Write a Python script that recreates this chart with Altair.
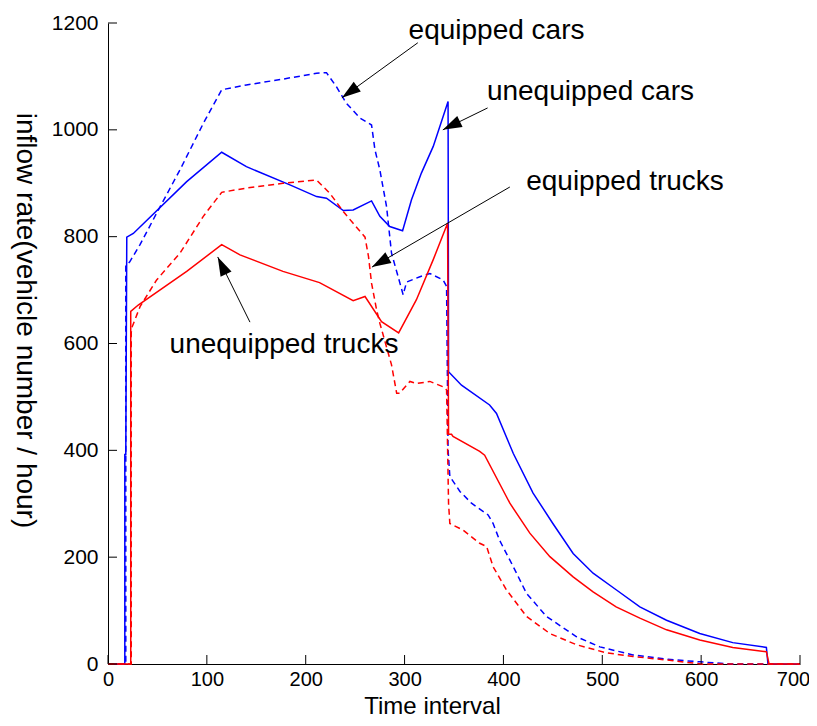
import altair as alt
import pandas as pd

FONT = "Liberation Sans"

# ---- series data ----
uc_t = [0, 17, 17, 18, 19, 25.6, 79.6, 115, 140, 184, 211, 221, 238, 248, 266.6, 275, 285, 298, 307, 317, 329, 344,
        344.5, 357.6, 386, 393, 410, 430, 450, 470.5, 490.7, 514, 538, 565, 598.6, 632, 666, 667.6, 700]
uc_v = [0, 0, 392, 392, 799, 806, 903, 958, 931, 897, 875, 872, 849, 850, 867, 838, 819, 811, 869, 919, 969, 1053,
        547, 522, 485, 469, 394, 320, 263, 207, 170, 139, 107, 82, 57, 40, 31, 0, 0]

ec_t = [0, 18, 18, 22, 32.4, 49.2, 72.8, 96.4, 115, 140, 177, 211, 221, 231, 241, 255, 266.6, 270, 275, 281.8,
        286.8, 293.5, 298.6, 302, 315.5, 325.6, 339, 342.5, 344, 345.8, 356, 367.7, 384.5, 389.6, 396, 410, 423.4,
        443.6, 474, 497.5, 531, 565, 598.6, 630, 700]
ec_v = [0, 0, 745, 753, 785, 844, 925, 1012, 1075, 1084, 1095, 1106, 1107, 1081, 1050, 1022, 1009, 963, 925, 856,
        769, 725, 691, 715, 725, 731, 719, 707, 401, 351, 323, 301, 279, 263, 232, 182, 132,
        89, 51, 32, 17, 9, 4, 0, 0]

ut_t = [0, 23, 23, 30.6, 79.6, 115, 133.5, 177, 214, 248, 260, 276.7, 294, 312, 329, 343.5, 344.5, 347.5, 349,
        376, 381, 406.5, 426.7, 447, 470.5, 490.7, 514, 538, 565, 598.6, 632, 666, 668.7, 700]
ut_v = [0, 0, 660, 672, 735, 785, 766, 735, 714, 680, 688, 641, 620, 682, 757, 825, 430, 430, 426,
        398, 391, 301, 245, 201, 163, 135, 107, 86, 64, 45, 31, 23, 0, 0]

et_t = [0, 23.5, 23.5, 24, 32.4, 49.2, 72.8, 96.4, 115, 140, 177, 211, 224.5, 238, 248, 260, 263.5, 266.6, 271.7,
        275, 286.8, 292, 295, 305.4, 312, 325.6, 339, 342.5, 344.5, 345.8, 359, 376, 383, 389.6, 403, 423.4, 447,
        474, 504, 531, 565, 600, 700]
et_v = [0, 0, 620, 629, 669, 719, 769, 838, 883, 891, 900, 906, 881, 847, 825, 799, 763, 713, 663,
        638, 560, 507, 507, 529, 525, 529, 519, 513, 300, 263, 251, 226, 220, 182, 139, 89, 57,
        36, 21, 14, 7.5, 0, 0]

series_names = ["unequipped cars", "equipped cars", "unequipped trucks", "equipped trucks"]
series_t = [uc_t, ec_t, ut_t, et_t]
series_v = [uc_v, ec_v, ut_v, et_v]
series_colors = ["#0000ff", "#0000ff", "#ff0000", "#ff0000"]
series_dashed = [False, True, False, True]

x_ticks = [0, 100, 200, 300, 400, 500, 600, 700]
y_ticks = [0, 200, 400, 600, 800, 1000, 1200]

# ---- annotations ----
ann_labels = ["equipped cars", "unequipped cars", "equipped trucks", "unequipped trucks"]
ann_text_t = [393, 488, 523, 178]
ann_text_v = [1170, 1056, 888, 582]
arrow_start_t = [313.4, 384, 406.5, 143.6]
arrow_start_v = [1163, 1041, 893, 640]
arrow_tip_t = [236.6, 338.7, 267, 111]
arrow_tip_v = [1060, 1000, 743, 762]
arrow_angle = [234, 244, 240, 334]

W, H = 692, 641

x_scale = alt.Scale(domain=[0, 700], nice=False, zero=False)
y_scale = alt.Scale(domain=[0, 1200], nice=False, zero=False)

x_axis = alt.Axis(values=x_ticks, format="d", title="Time interval", grid=False, ticks=False, tickSize=0,
                  labelPadding=5, labelFontSize=20, labelFont=FONT, labelColor="#000000",
                  labelFlush=False, labelOverlap=False,
                  labelOffset={"condition": {"test": "datum.value == 700", "value": -7}, "value": 0},
                  domainColor="#000000", domainWidth=1,
                  titleFont=FONT, titleFontSize=24, titleFontWeight="normal", titleColor="#000000",
                  titleX=324, titleY=49, titleBaseline="alphabetic", titleAlign="center")
y_axis = alt.Axis(values=y_ticks, format="d", title="inflow rate(vehicle number / hour)", grid=False, ticks=False,
                  tickSize=0, labelPadding=10, labelFontSize=21, labelFont=FONT, labelColor="#000000",
                  labelFlush=False, labelOverlap=False,
                  domainColor="#000000", domainWidth=1,
                  titleFont=FONT, titleFontSize=28, titleFontWeight="normal", titleColor="#000000",
                  titleAngle=90, titleX=-84, titleY=297, titleAlign="center", titleBaseline="middle")


def X(field):
    return alt.X(field, scale=x_scale, axis=x_axis)


def Y(field):
    return alt.Y(field, scale=y_scale, axis=y_axis)


layers = []
for k, (name, ts, vs) in enumerate(zip(series_names, series_t, series_v)):
    df = pd.DataFrame({"t": ts, "v": vs, "i": list(range(len(ts)))})
    mk = dict(color=series_colors[k], strokeWidth=1.5)
    if series_dashed[k]:
        mk["strokeDash"] = [6, 4]
    ch = alt.Chart(df).mark_line(**mk).encode(
        x=X("t:Q"), y=Y("v:Q"), order=alt.Order("i:Q"),
    )
    layers.append(ch)

# inward ticks
xt = alt.Chart(pd.DataFrame({"t": x_ticks})).mark_rule(color="#000000", strokeWidth=1).encode(
    x=X("t:Q"), y=alt.value(H - 9), y2=alt.value(H))
yt = alt.Chart(pd.DataFrame({"v": y_ticks})).mark_rule(color="#000000", strokeWidth=1).encode(
    y=Y("v:Q"), x=alt.value(0), x2=alt.value(9))

ann = pd.DataFrame({"label": ann_labels, "tt": ann_text_t, "tv": ann_text_v,
                    "x0": arrow_start_t, "y0": arrow_start_v, "x1": arrow_tip_t, "y1": arrow_tip_v,
                    "ang": arrow_angle})

texts = alt.Chart(ann).mark_text(font=FONT, fontSize=28, align="center", baseline="alphabetic",
                                 color="#000000").encode(
    x=X("tt:Q"), y=Y("tv:Q"), text="label:N")

arrow_lines = alt.Chart(ann).mark_rule(color="#000000", strokeWidth=1).encode(
    x=X("x0:Q"), y=Y("y0:Q"), x2="x1:Q", y2="y1:Q")

arrow_heads = alt.Chart(ann).mark_point(shape="M0,0L-0.32,1L0.32,1Z", filled=True, size=1444,
                                        color="#000000", opacity=1, strokeWidth=0).encode(
    x=X("x1:Q"), y=Y("y1:Q"), angle=alt.Angle("ang:Q", scale=None))

chart = alt.layer(*layers, xt, yt, arrow_lines, arrow_heads, texts).properties(
    width=W, height=H,
    background="white",
    autosize=alt.AutoSizeParams(type="none"),
    padding={"left": 100, "top": 15, "right": 9, "bottom": 54},
).configure_view(stroke=None)

chart.save("out.html", embed_options={"renderer": "svg", "actions": False})
